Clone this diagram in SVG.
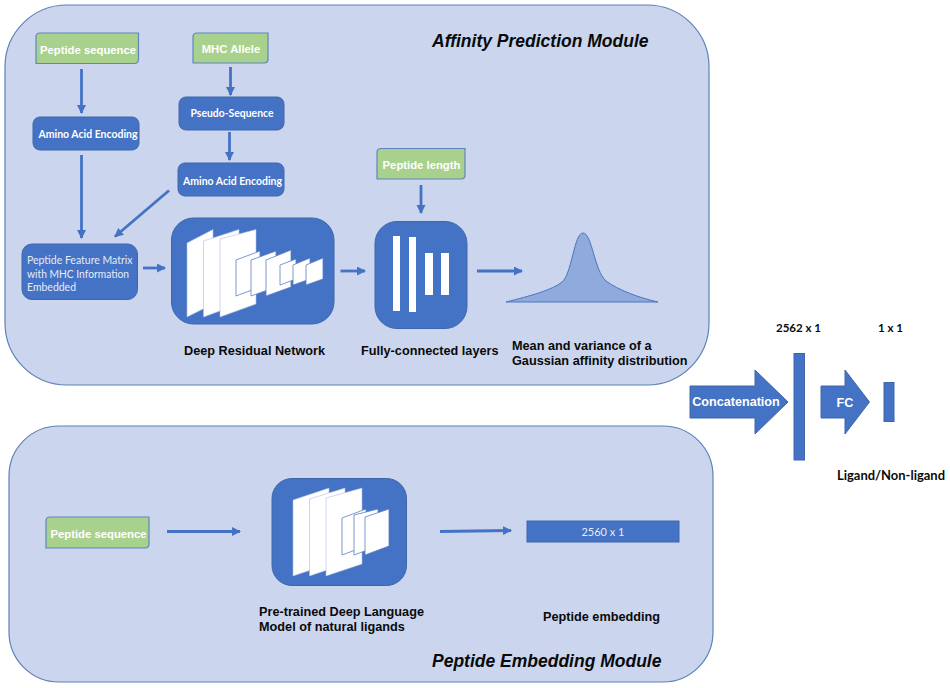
<svg xmlns="http://www.w3.org/2000/svg" width="950" height="688" viewBox="0 0 950 688">
<style>
.panel{fill:#cbd6ee;stroke:#5f80b8;stroke-width:1.2}
.blue{fill:#4472c4;stroke:#3f66ab;stroke-width:1}
.green{fill:#a9d18e;stroke:#5f86bb;stroke-width:1.2}
.sheet{fill:#fff;stroke:#5b7fc6;stroke-width:.8}
.big{fill:#fff;stroke:#a9bde4;stroke-width:.6}
.ln{fill:none;stroke:#4472c4;stroke-width:2.8;marker-end:url(#a)}
text{font-family:"Liberation Sans",Arial,sans-serif}
.w{fill:#fff;font-weight:700;font-size:11.300px}
.c{fill:#fff;font-family:Lato,"Liberation Sans",sans-serif;font-weight:700;font-size:11px}
.r{fill:#e6ecf8;font-family:Lato,"Liberation Sans",sans-serif;font-size:11px}
.k{fill:#0a0a0a;font-weight:700;font-size:12.700px}
.t{fill:#0a0a0a;font-weight:700;font-style:italic;font-size:17.500px}
.n{fill:#0a0a0a;font-family:Lato,"Liberation Sans",sans-serif;font-weight:700;font-size:11.500px}
.l{fill:#0a0a0a;font-family:Lato,"Liberation Sans",sans-serif;font-weight:700;font-size:13px}
.b{fill:#fff;font-weight:700;font-size:12.600px}
</style>
<defs>
<marker id="a" markerUnits="userSpaceOnUse" markerWidth="11" markerHeight="11" refX="8" refY="4.500" orient="auto"><path d="M0 0L9 4.500L0 9Z" fill="#4472c4"/></marker>
</defs>
<rect width="950" height="688" fill="#fff"/>
<g id="panel-affinity"><rect class="panel" x="5" y="5" width="704" height="380" rx="62"/><text class="t" x="432" y="47">Affinity Prediction Module</text></g>
<g id="panel-embedding"><rect class="panel" x="9" y="426" width="704" height="256" rx="50"/><text class="t" x="432" y="667">Peptide Embedding Module</text></g>
<g id="connectors">
<path class="ln" d="M81.500 69V113"/>
<path class="ln" d="M81.500 155V238"/>
<path class="ln" d="M230.500 67V95"/>
<path class="ln" d="M229.500 132V160"/>
<path class="ln" d="M169 190.500L115 236.500"/>
<path class="ln" d="M143 268H165"/>
<path class="ln" d="M340.500 271H365"/>
<path class="ln" d="M421 185V213"/>
<path class="ln" d="M477 271H522"/>
<path class="ln" d="M167 531.500H240"/>
<path class="ln" d="M440 531.500L511 530.500"/>
</g>
<g id="n-peptide-seq"><path class="green" d="M40 33H138.500V59Q138.500 63.500 134 63.500H36V37Q36 33 40 33Z"/><text class="w" x="88" y="54" text-anchor="middle">Peptide sequence</text></g>
<g id="n-mhc"><path class="green" d="M197 33H268V59Q268 63 264 63H193V37Q193 33 197 33Z"/><text class="w" x="231" y="53" text-anchor="middle">MHC Allele</text></g>
<g id="n-aae1"><rect class="blue" x="33" y="117" width="106" height="33" rx="7"/><text class="c" x="38.500" y="138" textLength="99" lengthAdjust="spacingAndGlyphs">Amino Acid Encoding</text></g>
<g id="n-pseudo"><rect class="blue" x="179" y="97" width="105" height="33" rx="7"/><text class="c" x="190.500" y="117" textLength="83" lengthAdjust="spacingAndGlyphs">Pseudo-Sequence</text></g>
<g id="n-aae2"><rect class="blue" x="178" y="163" width="106" height="33" rx="7"/><text class="c" x="183" y="185" textLength="99" lengthAdjust="spacingAndGlyphs">Amino Acid Encoding</text></g>
<g id="n-feature"><rect class="blue" x="22" y="244" width="115.500" height="55.500" rx="10"/>
<text class="r" x="27" y="264" textLength="105.500" lengthAdjust="spacingAndGlyphs">Peptide Feature Matrix</text><text class="r" x="27" y="277.500" textLength="102" lengthAdjust="spacingAndGlyphs">with MHC Information</text><text class="r" x="27" y="291" textLength="49" lengthAdjust="spacingAndGlyphs">Embedded</text></g>
<g id="n-resnet"><rect class="blue" x="171.500" y="218" width="162.500" height="106" rx="22"/>
<path class="big" d="M187 243L213 229.500V304L187 317Z"/><path class="big" d="M203.500 241L239 229.500V304L203.500 317Z"/><path class="big" d="M220 239L256 229.500V304L220 317Z"/>
<path class="sheet" d="M236 260L260 251V287L236 296Z"/><path class="sheet" d="M251 260L276 251V287L251 296Z"/><path class="sheet" d="M266 260L291 250V287L266 296Z"/>
<path class="sheet" d="M280 265L296 259V279L280 285Z"/><path class="sheet" d="M293 265L310 258V279L293 285Z"/><path class="sheet" d="M306 265L323 258V279L306 285Z"/></g>
<g id="n-length"><path class="green" d="M381 148.500H465V175Q465 179 461 179H377V152.500Q377 148.500 381 148.500Z"/><text class="w" x="421.500" y="169" text-anchor="middle">Peptide length</text></g>
<g id="n-fc"><rect class="blue" x="375" y="221.500" width="92" height="107" rx="22"/>
<rect x="393" y="236" width="7" height="75" fill="#fff"/><rect x="409" y="237" width="7" height="75" fill="#fff"/><rect x="425" y="253" width="8" height="42" fill="#fff"/><rect x="441" y="253" width="8" height="42" fill="#fff"/></g>
<g id="n-gauss"><path d="M506 302C530 296 552 290 562 282C572 274 574 233 583 233C592 233 594 270 606 281C618 290 640 298 658 302Z" fill="#8faadc" stroke="#4f74bd" stroke-width="1"/></g>
<g id="labels"><text class="k" x="184" y="355">Deep Residual Network</text><text class="k" x="361" y="355">Fully-connected layers</text><text class="k" x="512" y="350">Mean and variance of a</text><text class="k" x="512" y="365">Gaussian affinity distribution</text>
<text class="n" x="776" y="332">2562 x 1</text><text class="n" x="878" y="332">1 x 1</text><text class="l" x="837" y="480" textLength="108" lengthAdjust="spacingAndGlyphs">Ligand/Non-ligand</text></g>
<g id="n-concat"><path class="blue" d="M690 386H755V370L788 402L755 434V418H690Z"/><text class="b" x="736" y="406" text-anchor="middle">Concatenation</text></g>
<g id="n-2562"><rect class="blue" x="794" y="353.500" width="10.500" height="106.500"/></g>
<g id="n-fcarrow"><path class="blue" d="M821 386H845V370L869.500 402L845 434V418H821Z"/><text class="b" x="845" y="407" text-anchor="middle">FC</text></g>
<g id="n-1"><rect class="blue" x="884" y="382.500" width="10" height="39"/></g>
<g id="n-peptide-seq2"><path class="green" d="M50 517H149V544Q149 548 145 548H46V521Q46 517 50 517Z"/><text class="w" x="98.500" y="537.500" text-anchor="middle">Peptide sequence</text></g>
<g id="n-lang"><rect class="blue" x="272" y="478.500" width="134.500" height="107" rx="20"/>
<path class="big" d="M293 500L329 488V564L293 576Z"/><path class="big" d="M309.500 499L345 488V564L309.500 576Z"/><path class="big" d="M326 498L362 488V564L326 576Z"/>
<path class="sheet" d="M342 518L366 509V546L342 555Z"/><path class="sheet" d="M354 515L378 509V546L354 555Z"/><path class="sheet" d="M365 517L389 509V546L365 555Z"/></g>
<g id="n-2560"><rect class="blue" x="527" y="521" width="152" height="21"/><text class="r" x="603" y="536" text-anchor="middle">2560 x 1</text></g>
<g id="labels2"><text class="k" x="259" y="616">Pre-trained Deep Language</text><text class="k" x="259" y="631">Model of natural ligands</text><text class="k" x="543" y="621">Peptide embedding</text></g>
</svg>
